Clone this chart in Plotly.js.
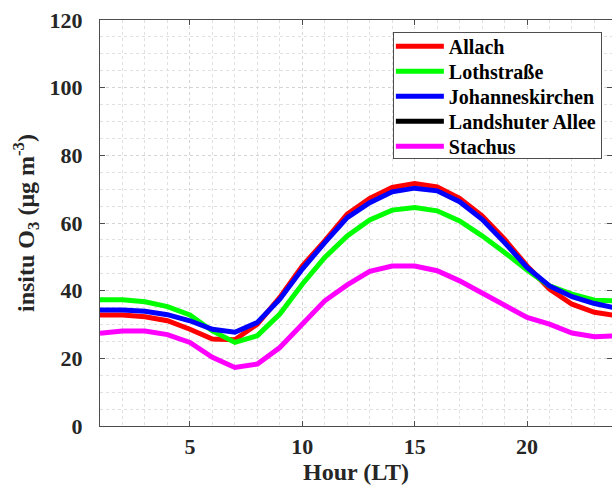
<!DOCTYPE html>
<html><head><meta charset="utf-8">
<script src="https://cdn.plot.ly/plotly-3.0.1.min.js"></script>
<style>html,body{margin:0;padding:0;background:#fff}#c{width:612px;height:487px}</style>
</head><body><div id="c"></div>
<script>
const hours = [1,2,3,4,5,6,7,8,9,10,11,12,13,14,15,16,17,18,19,20,21,22,23,24];
const allach = [32.8,32.8,32.3,31.1,28.6,25.7,25.5,30.1,38.0,47.3,54.7,62.6,67.3,70.5,71.7,70.7,67.3,62.1,55.2,47.3,40.5,36.0,33.6,32.6];
const lothstrasse = [37.3,37.3,36.7,35.3,32.8,28.1,24.7,26.7,33.1,41.9,49.8,56.2,60.9,63.8,64.6,63.6,60.6,56.2,51.3,46.1,41.4,39.0,37.2,37.0];
const johanneskirchen = [34.3,34.3,33.9,32.9,31.1,28.6,27.7,30.6,37.5,46.4,54.2,61.6,66.0,69.2,70.3,69.5,66.3,61.1,54.2,46.9,41.4,38.2,36.2,34.8];
const landshuter = [null,null,null,null,null,null,null,null,null,null,null,null,null,null,null,null,null,null,null,null,null,null,null,null];
const stachus = [27.4,28.1,28.1,27.0,24.7,20.3,17.3,18.3,23.2,30.1,37.0,41.7,45.7,47.3,47.3,45.9,42.9,39.3,35.5,32.1,30.1,27.5,26.4,26.7];
const names = ['Allach','Lothstraße','Johanneskirchen','Landshuter Allee','Stachus'];
const colors = ['#ff0000','#00ff00','#0000ff','#000000','#ff00ff'];
const series = [allach, lothstrasse, johanneskirchen, landshuter, stachus];
const xTicks = [5,10,15,20];
const yTicks = [0,20,40,60,80,100,120];

const fam = 'Liberation Serif';
const traces = series.map((y,i)=>({
  x: hours, y: y, name: names[i], type:'scatter', mode:'lines',
  line:{color:colors[i], width:5}
}));
const axisCommon = {
  showline:true, linecolor:'#4d4d4d', linewidth:1, mirror:'ticks',
  ticks:'inside', ticklen:5, tickcolor:'#4d4d4d',
  showgrid:true, gridcolor:'#d4d4d4', griddash:'dot', gridwidth:1,
  zeroline:false,
  tickfont:{family:fam, size:22, color:'#262626', weight:'bold'}
};
const layout = {
  width:612, height:487,
  margin:{l:100, r:0, t:20, b:61},
  paper_bgcolor:'#fff', plot_bgcolor:'#fff',
  font:{family:fam, size:18, color:'#262626'},
  showlegend:true,
  legend:{x:0.572, y:0.971, xanchor:'left', yanchor:'top',
    bgcolor:'#fff', bordercolor:'#4d4d4d', borderwidth:1,
    font:{family:fam, size:20, color:'#000', weight:'bold'},
    tracegroupgap:0, itemwidth:45},
  xaxis:Object.assign({}, axisCommon, {range:[1,23.78], tickvals:xTicks, ticktext:xTicks.map(String),
    ticklabelstandoff:1,
    minor:{dtick:1, showgrid:true, gridcolor:'#e0e0e0', griddash:'dot', ticks:''},
    title:{text:'Hour (LT)', standoff:0, font:{family:fam, size:24, color:'#262626', weight:'bold'}}}),
  yaxis:Object.assign({}, axisCommon, {range:[0,120], tickvals:yTicks, ticktext:yTicks.map(String),
    ticklabelstandoff:12,
    minor:{dtick:5, showgrid:true, gridcolor:'#e0e0e0', griddash:'dot', ticks:''},
    title:{text:'insitu O<sub>3</sub> (μg m<sup>-3</sup>)', standoff:8, font:{family:fam, size:24, color:'#262626', weight:'bold'}}})
};
function tightenLegend(){
  const items = Array.from(document.querySelectorAll('.legend .traces'));
  if (items.length < 2) return;
  const parse = el => {
    const m = /translate\(\s*([-\d.]+)[ ,]+([-\d.]+)\s*\)/.exec(el.getAttribute('transform')||'');
    return m ? [parseFloat(m[1]), parseFloat(m[2])] : [0,0];
  };
  const p0 = parse(items[0]);
  const step = 25, y0 = p0[1] - 6;
  items.forEach((el,i)=>{
    const p = parse(el);
    el.setAttribute('transform', `translate(${p[0]},${y0+i*step})`);
  });
  const bg = document.querySelector('.legend .bg');
  if (bg) bg.setAttribute('height', step*items.length + 1);
  document.querySelectorAll('.legend .legendlines path').forEach(p=>p.setAttribute('d','M2,0h48'));
}
Plotly.newPlot('c', traces, layout, {displayModeBar:false, staticPlot:true}).then(tightenLegend);
</script></body></html>
